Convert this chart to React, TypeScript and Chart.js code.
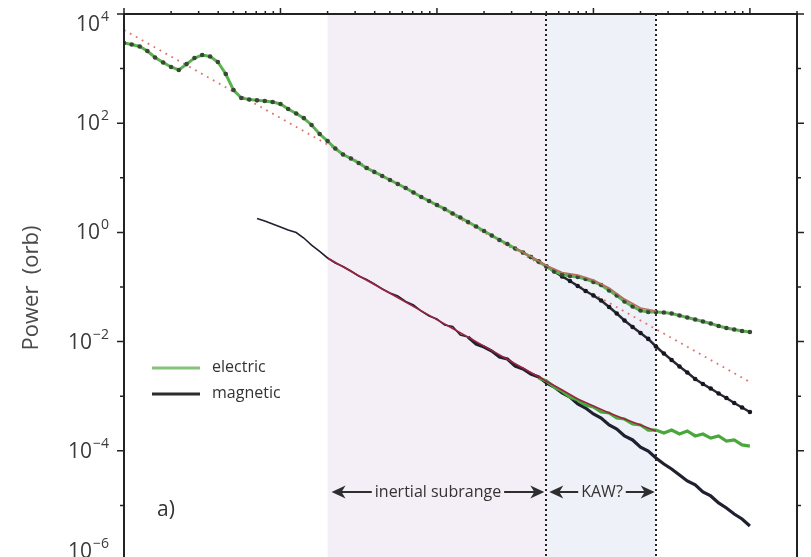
import React, { useEffect, useRef } from "react";
import { Chart, registerables } from "chart.js";

Chart.register(...registerables);

// Frequency grid (log-spaced, arbitrary units)
const freq = [
  0.01, 0.0112, 0.0126, 0.0141, 0.0158, 0.0178, 0.02, 0.0224, 0.0251, 0.0282,
  0.0316, 0.0355, 0.0398, 0.0447, 0.0501, 0.0562, 0.0631, 0.0708, 0.0794, 0.0891,
  0.1, 0.112, 0.126, 0.141, 0.158, 0.178, 0.2, 0.224, 0.251, 0.282,
  0.316, 0.355, 0.398, 0.447, 0.501, 0.562, 0.631, 0.708, 0.794, 0.891,
  1, 1.12, 1.26, 1.41, 1.58, 1.78, 2, 2.24, 2.51, 2.82,
  3.16, 3.55, 3.98, 4.47, 5.01, 5.62, 6.31, 7.08, 7.94, 8.91,
  10, 11.2, 12.6, 14.1, 15.8, 17.8, 20, 22.4, 25.1, 28.2,
  31.6, 35.5, 39.8, 44.7, 50.1, 56.2, 63.1, 70.8, 79.4, 89.1, 100,
];

// Upper spectrum: electric (all freq)
const electricUpper = [
  2940, 2760, 2540, 2100, 1600, 1290, 1070, 942, 1210, 1560,
  1770, 1670, 1320, 797, 405, 290, 272, 262, 255, 244,
  225, 182, 151, 124, 92.7, 63.4, 47.2, 34.4, 26.7, 22.6,
  18.7, 15.1, 12.8, 10.8, 9.12, 7.7, 6.5, 5.38, 4.45, 3.76,
  3.18, 2.69, 2.22, 1.87, 1.55, 1.28, 1.06, 0.877, 0.726, 0.614,
  0.507, 0.429, 0.354, 0.293, 0.237, 0.196, 0.169, 0.159, 0.152, 0.14,
  0.124, 0.109, 0.0863, 0.0698, 0.0542, 0.044, 0.0372, 0.0348, 0.0348, 0.0341,
  0.0327, 0.0301, 0.0276, 0.0254, 0.0233, 0.0215, 0.0193, 0.0177, 0.0167, 0.0156,
  0.015,
];
// Upper spectrum: magnetic (from freq index 52)
const magneticUpperStart = 52;
const magneticUpper = [
  0.354, 0.293, 0.237, 0.192, 0.156, 0.129, 0.104, 0.0845, 0.0698, 0.0566,
  0.0431, 0.0327, 0.0243, 0.0185, 0.0144, 0.0112, 0.00813, 0.00605, 0.0046, 0.0035,
  0.00272, 0.00207, 0.00167, 0.00138, 0.00112, 0.000927, 0.00075, 0.000621, 0.000514,
];
// Lower spectrum: magnetic (from freq index 17)
const magneticLowerStart = 17;
const magneticLower = [
  1.8, 1.62, 1.43, 1.26, 1.11, 0.995, 0.789, 0.587, 0.447, 0.34,
  0.275, 0.237, 0.196, 0.159, 0.137, 0.114, 0.0919, 0.0776, 0.0684, 0.0542,
  0.0468, 0.0363, 0.0294, 0.0259, 0.0201, 0.0189, 0.0132, 0.0121, 0.00904, 0.00796,
  0.00673, 0.00522, 0.0048, 0.00357, 0.00315, 0.00255, 0.00225, 0.00175, 0.00147, 0.00115,
  0.000966, 0.000719, 0.000608, 0.000472, 0.000399, 0.000297, 0.000251, 0.000187, 0.000158, 0.000117,
  0.0000991, 0.0000738, 0.0000573, 0.0000465, 0.0000361, 0.000028, 0.0000237, 0.0000176, 0.0000149, 0.0000111,
  0.00000895, 0.00000695, 0.00000564, 0.0000042,
];
// Lower spectrum: electric (from freq index 53)
const electricLowerStart = 53;
const electricLower = [
  0.00215, 0.0019, 0.00147, 0.00124, 0.000966, 0.000851, 0.00069, 0.000634, 0.000514, 0.000492,
  0.000399, 0.000382, 0.00031, 0.000297, 0.00024, 0.00024, 0.000212, 0.00024, 0.000203, 0.000231,
  0.000187, 0.000203, 0.000171, 0.000187, 0.000151, 0.000158, 0.000128, 0.000122,
];
// Model curves (red)
const redUpperFreq = [3.16, 3.98, 5.01, 6.31, 7.94, 10, 12.6, 15.8, 20, 25.1];
const redUpper = [0.518, 0.362, 0.248, 0.185, 0.166, 0.134, 0.0959, 0.0603, 0.0412, 0.0363];
const redLowerFreq = [0.2, 0.316, 0.501, 0.794, 1.26, 2, 3.16, 5.01, 6.31, 7.94, 10, 12.6, 15.8, 20, 25.1];
const redLower = [0.34, 0.161, 0.0767, 0.0365, 0.0174, 0.00828, 0.00394, 0.00188, 0.0013, 0.000889, 0.000662, 0.000492, 0.000382, 0.000297, 0.000231];
// Power-law fit (dotted)
const fitFreq = [0.01, 100];
const fitPower = [5090, 0.00182];

// Ranges and axis
const inertialRange = [0.2, 5];
const kawRange = [5, 25];
const xMin = 0.01;
const xMax = 200;
const yExponents = [-6, -5, -4, -3, -2, -1, 0, 1, 2, 3, 4];
const xDecades = [-2, -1, 0, 1, 2];

const pts = (xs: number[], ys: number[]) => ys.map((v, i) => ({ x: xs[i], y: v }));

const FONT = "'Open Sans', 'DejaVu Sans', sans-serif";

function drawArrowHead(ctx: CanvasRenderingContext2D, tipX: number, y: number, dir: number) {
  const L = 14, H = 6.5, notch = 4;
  ctx.beginPath();
  ctx.moveTo(tipX, y);
  ctx.lineTo(tipX - dir * L, y - H);
  ctx.lineTo(tipX - dir * (L - notch), y);
  ctx.lineTo(tipX - dir * L, y + H);
  ctx.closePath();
  ctx.fill();
}

function drawRangeArrow(ctx: CanvasRenderingContext2D, x0: number, x1: number, y: number, label: string) {
  ctx.font = `16px ${FONT}`;
  const w = ctx.measureText(label).width;
  const cx = (x0 + x1) / 2;
  ctx.fillStyle = "#333";
  ctx.textAlign = "center";
  ctx.textBaseline = "middle";
  ctx.fillText(label, cx, y);
  ctx.strokeStyle = "#2e2e2e";
  ctx.lineWidth = 2.2;
  ctx.beginPath();
  ctx.moveTo(x0 + 4, y);
  ctx.lineTo(cx - w / 2 - 3, y);
  ctx.moveTo(cx + w / 2 + 3, y);
  ctx.lineTo(x1 - 4, y);
  ctx.stroke();
  ctx.fillStyle = "#2e2e2e";
  drawArrowHead(ctx, x0, y, -1);
  drawArrowHead(ctx, x1, y, 1);
}

const decorPlugin = {
  id: "decor",
  beforeDatasetsDraw(chart: any) {
    const { ctx, chartArea: a, scales } = chart;
    const x = scales.x;
    ctx.save();
    const p0 = x.getPixelForValue(inertialRange[0]);
    const p1 = x.getPixelForValue(inertialRange[1]);
    const p2 = x.getPixelForValue(kawRange[1]);
    ctx.fillStyle = "#f4eff6";
    ctx.fillRect(p0, a.top, p1 - p0, a.bottom - a.top);
    ctx.fillStyle = "#eef1f7";
    ctx.fillRect(p1, a.top, p2 - p1, a.bottom - a.top);
    ctx.strokeStyle = "#222";
    ctx.lineWidth = 2;
    ctx.setLineDash([2, 3]);
    for (const v of kawRange) {
      const px = Math.round(x.getPixelForValue(v));
      ctx.beginPath();
      ctx.moveTo(px, a.top);
      ctx.lineTo(px, a.bottom);
      ctx.stroke();
    }
    ctx.restore();
  },
  afterDraw(chart: any) {
    const { ctx, chartArea: a, scales } = chart;
    const x = scales.x;
    const y = scales.y;
    ctx.save();

    // range annotations
    const ay = 492;
    drawRangeArrow(ctx, x.getPixelForValue(inertialRange[0]) + 4, x.getPixelForValue(inertialRange[1]) - 2, ay, "inertial subrange");
    drawRangeArrow(ctx, x.getPixelForValue(kawRange[0]) + 3, x.getPixelForValue(kawRange[1]) - 1, ay, "KAW?");

    // legend
    ctx.lineWidth = 3;
    ctx.strokeStyle = "#86c277";
    ctx.beginPath();
    ctx.moveTo(a.left + 28, 368);
    ctx.lineTo(a.left + 76, 368);
    ctx.stroke();
    ctx.strokeStyle = "#2b2b2b";
    ctx.beginPath();
    ctx.moveTo(a.left + 28, 394);
    ctx.lineTo(a.left + 76, 394);
    ctx.stroke();
    ctx.fillStyle = "#333";
    ctx.font = `16px ${FONT}`;
    ctx.textAlign = "left";
    ctx.textBaseline = "middle";
    ctx.fillText("electric", a.left + 88, 367);
    ctx.fillText("magnetic", a.left + 88, 393);

    // panel label
    ctx.font = `21px ${FONT}`;
    ctx.fillText("a)", a.left + 33, 510);

    // frame
    ctx.strokeStyle = "#222";
    ctx.lineWidth = 2;
    ctx.strokeRect(a.left, a.top, a.right - a.left, a.bottom - a.top);

    // y ticks (left + right)
    ctx.lineWidth = 1.5;
    for (const e of yExponents) {
      const py = y.getPixelForValue(Math.pow(10, e));
      const len = e % 2 === 0 ? 7 : 4;
      ctx.beginPath();
      ctx.moveTo(a.left - len, py);
      ctx.lineTo(a.left, py);
      ctx.moveTo(a.right, py);
      ctx.lineTo(a.right + len, py);
      ctx.stroke();
    }
    // x ticks (top)
    for (const d of xDecades) {
      for (let m = 1; m <= 9; m++) {
        const v = m * Math.pow(10, d);
        if (v < xMin || v > xMax) continue;
        const px = x.getPixelForValue(v);
        const len = m === 1 ? 6 : 3;
        ctx.beginPath();
        ctx.moveTo(px, a.top - len);
        ctx.lineTo(px, a.top);
        ctx.stroke();
      }
    }

    // y tick labels
    ctx.fillStyle = "#3a3a3a";
    ctx.textBaseline = "middle";
    const rightEdge = 109;
    for (const e of yExponents) {
      if (e % 2 !== 0) continue;
      let py = y.getPixelForValue(Math.pow(10, e));
      if (e === 4) py += 10;
      if (e === -6) py -= 9;
      const expTxt = e < 0 ? "\u2212" + Math.abs(e) : String(e);
      ctx.font = `14px ${FONT}`;
      const ew = ctx.measureText(expTxt).width;
      ctx.textAlign = "right";
      ctx.fillText(expTxt, rightEdge, py - 7);
      ctx.font = `21px ${FONT}`;
      ctx.fillText("10", rightEdge - ew - 1, py + 1);
    }

    // y title
    ctx.translate(32, 288);
    ctx.rotate(-Math.PI / 2);
    ctx.font = `22px ${FONT}`;
    ctx.fillStyle = "#4a4a4a";
    ctx.textAlign = "center";
    ctx.textBaseline = "middle";
    ctx.fillText("Power  (orb)", 0, 0);
    ctx.restore();
  },
};

export default function App() {
  const ref = useRef<HTMLCanvasElement>(null);
  useEffect(() => {
    if (!ref.current) return;
    const chart = new Chart(ref.current, {
      type: "line",
      data: {
        datasets: [
          {
            label: "model (upper)",
            data: pts(redUpperFreq, redUpper),
            borderColor: "#b8705e",
            borderWidth: 1.5,
            pointRadius: 0,
          },
          {
            label: "electric",
            data: pts(freq, electricUpper),
            borderColor: "#5ab24e",
            borderWidth: 3,
            pointRadius: 2.3,
            pointBackgroundColor: "#3a4638",
            pointBorderWidth: 0,
          },
          {
            label: "magnetic",
            data: pts(freq.slice(magneticUpperStart), magneticUpper),
            borderColor: "#262833",
            borderWidth: 2.5,
            pointRadius: 2.3,
            pointBackgroundColor: "#17171f",
            pointBorderWidth: 0,
          },
          {
            label: "model (lower)",
            data: pts(redLowerFreq, redLower),
            borderColor: "#9a2440",
            borderWidth: 1.6,
            pointRadius: 0,
          },
          {
            label: "electric (lower)",
            data: pts(freq.slice(electricLowerStart), electricLower),
            borderColor: "#4aa83a",
            borderWidth: 3.2,
            pointRadius: 0,
          },
          {
            label: "magnetic (lower)",
            data: pts(freq.slice(magneticLowerStart), magneticLower),
            borderColor: "#1f2130",
            borderWidth: 1.5,
            pointRadius: 0,
            segment: {
              borderWidth: (c: any) => (c.p0.parsed.x < 1.5 ? 1.6 : 3.2),
            },
          },
          {
            label: "fit",
            data: pts(fitFreq, fitPower),
            borderColor: "#e0706a",
            borderWidth: 1.8,
            borderDash: [1.8, 5],
            pointRadius: 0,
          },
        ],
      },
      options: {
        responsive: false,
        animation: false,
        layout: { padding: { left: 124, top: 14, right: 14, bottom: 40 } },
        plugins: { legend: { display: false }, tooltip: { enabled: false } },
        elements: { line: { tension: 0 } },
        scales: {
          x: { type: "logarithmic", min: xMin, max: xMax, display: false },
          y: { type: "logarithmic", min: 1e-6, max: 1e4, display: false },
        },
      },
      plugins: [decorPlugin],
    } as any);
    return () => chart.destroy();
  }, []);
  return (
    <div style={{ position: "fixed", left: 0, top: 0, width: 811, height: 557, overflow: "hidden", background: "#fff" }}>
      <canvas ref={ref} width={811} height={600} style={{ display: "block" }} />
    </div>
  );
}
